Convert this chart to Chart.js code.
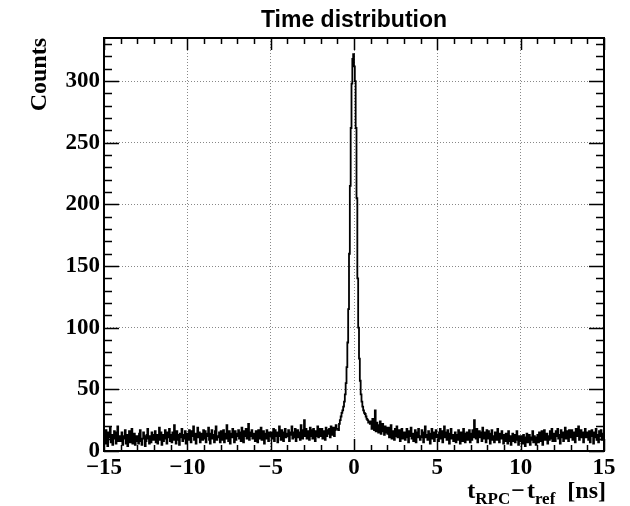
<!DOCTYPE html>
<html><head><meta charset="utf-8">
<script src="https://cdn.jsdelivr.net/npm/chart.js@4.4.1/dist/chart.umd.min.js"></script>
<style>html,body{margin:0;padding:0;background:#fff}canvas{display:block}</style>
</head><body>
<canvas id="c" width="630" height="506"></canvas>
<script>
// ---- data ----
const X_MIN = -15, X_MAX = 15, BIN_WIDTH = 0.05;
const Y_MIN = 0, Y_MAX = 335;
const xTicks = [-15, -10, -5, 0, 5, 10, 15];
const yTicks = [0, 50, 100, 150, 200, 250, 300];
const chartTitle = "Time distribution";
const yTitle = "Counts";
// counts per 0.05 ns bin, one row = 1 ns, from -15 to +15
const counts = [
14,6,17,9,4,15,11,19,7,13,5,10,16,12,6,15,20,8,12,9,
8,15,5,12,10,17,6,13,4,11,16,7,12,18,6,9,14,5,12,8,
12,6,14,17,8,5,10,15,12,4,8,13,18,10,6,12,7,15,9,13,
9,16,7,13,6,12,19,9,15,5,13,8,11,17,10,6,15,11,18,8,
13,7,15,9,21,11,6,16,13,9,5,14,11,18,8,13,10,16,6,12,
14,9,17,11,7,16,12,20,9,14,6,13,19,11,15,7,12,14,9,17,
10,16,7,14,12,19,9,6,14,17,10,13,7,16,20,9,12,11,15,7,
16,9,12,17,7,14,10,21,12,8,16,6,14,11,18,12,7,16,9,14,
12,17,10,15,8,19,13,7,16,12,18,10,14,22,9,15,12,17,10,14,
14,8,16,12,7,17,10,14,19,9,12,16,6,14,10,17,12,8,15,12,
15,10,13,18,8,17,12,15,7,14,20,12,9,17,13,8,15,18,11,14,
12,17,8,15,13,20,10,15,11,18,8,14,17,11,15,9,21,13,10,17,
25,12,18,10,16,14,9,19,12,17,10,18,14,8,16,12,20,11,15,18,
12,18,10,16,14,9,19,12,17,14,18,11,20,15,13,19,12,17,21,18,
18,17,22,25,28,31,33,36,40,46,55,68,88,115,160,215,262,298,318,322,
312,300,262,205,140,100,75,57,46,40,36,33,31,30,28,26,25,23,24,22,
24,18,26,20,17,33,16,23,19,15,21,24,14,19,22,16,13,20,15,19,
14,19,11,17,21,10,16,14,9,18,12,20,11,15,17,8,13,18,10,15,
15,9,13,18,11,7,16,12,19,10,14,8,13,17,7,15,11,18,12,9,
11,17,13,7,15,20,11,13,9,16,14,6,13,18,10,15,8,13,17,11,
13,8,15,18,10,16,7,13,20,11,15,9,17,12,6,14,18,10,13,8,
12,15,7,13,9,17,11,6,15,13,8,18,12,7,14,15,9,11,17,7,
14,9,17,11,25,15,10,18,7,13,16,11,15,8,19,12,10,15,7,17,
10,16,12,6,14,17,9,12,7,15,13,9,18,11,7,14,10,16,12,6,
13,8,14,10,6,16,8,12,5,11,14,8,13,7,10,16,9,5,12,10,
8,12,6,13,9,4,11,14,7,10,13,5,11,9,16,7,12,10,5,11,
13,7,15,10,8,16,5,12,17,9,11,14,6,12,9,16,10,18,8,12,
14,8,16,12,18,10,13,6,17,11,15,8,13,19,10,12,16,8,17,13,
11,17,9,15,13,7,18,12,15,20,9,13,17,11,15,7,13,18,11,15,
14,9,16,7,12,17,13,6,15,11,18,9,13,7,16,12,17,9,14,11
];

// histogram as step line: each bin starts at its low edge
const points = counts.map((v, i) => ({ x: X_MIN + i * BIN_WIDTH, y: v }));
points.push({ x: X_MAX, y: counts[counts.length - 1] });

const SERIF = '"Liberation Serif", "Times New Roman", serif';
const SANS = '"Liberation Sans", Arial, sans-serif';
const fmt = v => String(v).replace('-', '\u2212');

const rootFrame = {
  id: 'rootFrame',
  afterDraw(chart) {
    const ctx = chart.ctx, a = chart.chartArea;
    const sx = chart.scales.x, sy = chart.scales.y;
    ctx.save();
    ctx.strokeStyle = '#000';
    // inside ticks
    ctx.lineWidth = 1.5;
    ctx.beginPath();
    for (let v = X_MIN; v <= X_MAX + 1e-9; v += 1) {
      const px = Math.round(sx.getPixelForValue(v)) + 0.5;
      const len = (Math.abs(v % 5) < 1e-9) ? 12 : 6;
      ctx.moveTo(px, a.bottom); ctx.lineTo(px, a.bottom - len);
      ctx.moveTo(px, a.top); ctx.lineTo(px, a.top + len);
    }
    for (let v = Y_MIN; v <= Y_MAX; v += 10) {
      const py = Math.round(sy.getPixelForValue(v)) + 0.5;
      const len = (v % 50 === 0) ? 15 : 8;
      ctx.moveTo(a.left, py); ctx.lineTo(a.left + len, py);
      ctx.moveTo(a.right, py); ctx.lineTo(a.right - len, py);
    }
    ctx.stroke();
    // frame
    ctx.lineWidth = 2;
    ctx.strokeRect(a.left, a.top, a.right - a.left, a.bottom - a.top);
    // title
    ctx.fillStyle = '#000';
    ctx.font = 'bold 23px ' + SANS;
    ctx.textAlign = 'center';
    ctx.textBaseline = 'alphabetic';
    ctx.fillText(chartTitle, (a.left + a.right) / 2, 27);
    // y title
    ctx.save();
    ctx.translate(46, a.top);
    ctx.rotate(-Math.PI / 2);
    ctx.font = 'bold 24px ' + SERIF;
    ctx.textAlign = 'right';
    ctx.fillText(yTitle, 0, 0);
    ctx.restore();
    // x title with subscripts
    const big = 'bold 24px ' + SERIF, small = 'bold 17px ' + SERIF;
    const parts = [
      { t: 't', f: big, dy: 0, gap: 0 },
      { t: 'RPC', f: small, dy: 6, gap: 0 },
      { t: '\u2212', f: big, dy: 0, gap: 1 },
      { t: 't', f: big, dy: 0, gap: 2 },
      { t: 'ref', f: small, dy: 6, gap: 0 },
      { t: '[ns]', f: big, dy: 0, gap: 12 }
    ];
    let total = 0;
    parts.forEach(p => { ctx.font = p.f; p.w = ctx.measureText(p.t).width; total += p.gap + p.w; });
    let x = a.right + 2 - total;
    const base = 498;
    ctx.textAlign = 'left';
    parts.forEach(p => { x += p.gap; ctx.font = p.f; ctx.fillText(p.t, x, base + p.dy); x += p.w; });
    ctx.restore();
  }
};

new Chart(document.getElementById('c'), {
  type: 'line',
  data: {
    datasets: [{
      data: points,
      borderColor: '#000',
      borderWidth: 1.8,
      pointRadius: 0,
      stepped: 'before',
      fill: false,
      tension: 0
    }]
  },
  options: {
    responsive: false,
    animation: false,
    events: [],
    layout: { padding: { left: 0, right: 26, top: 38, bottom: 0 } },
    plugins: { legend: { display: false }, title: { display: false }, tooltip: { enabled: false } },
    scales: {
      x: {
        type: 'linear', min: X_MIN, max: X_MAX,
        afterBuildTicks: s => { s.ticks = xTicks.map(v => ({ value: v })); },
        afterFit: s => { s.height = 55; },
        ticks: {
          color: '#000', padding: 3, maxRotation: 0, autoSkip: false,
          font: { family: SERIF, weight: 'bold', size: 23 },
          callback: v => fmt(v)
        },
        grid: { color: '#888', lineWidth: 1, drawTicks: false },
        border: { display: false, dash: [1, 2] }
      },
      y: {
        type: 'linear', min: Y_MIN, max: Y_MAX,
        afterBuildTicks: s => { s.ticks = yTicks.map(v => ({ value: v })); },
        afterFit: s => { s.width = 104; },
        ticks: {
          color: '#000', padding: 4, autoSkip: false,
          font: { family: SERIF, weight: 'bold', size: 23 },
          callback: v => fmt(v)
        },
        grid: { color: '#888', lineWidth: 1, drawTicks: false },
        border: { display: false, dash: [1, 2] }
      }
    }
  },
  plugins: [rootFrame]
});
</script>
</body></html>
